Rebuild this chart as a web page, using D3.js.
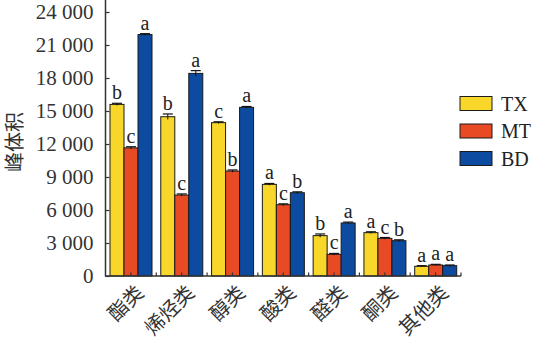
<!DOCTYPE html>
<html>
<head>
<meta charset="utf-8">
<script src="https://cdn.jsdelivr.net/npm/d3@7"></script>
<style>
  html, body { margin: 0; padding: 0; background: #fff; }
  svg { display: block; }
</style>
</head>
<body>
<svg id="chart" width="536" height="349"></svg>
<script>
const categories = ["酯类", "烯烃类", "醇类", "酸类", "醛类", "酮类", "其他类"];
const seriesNames = ["TX", "MT", "BD"];
const valuesTX = [15600, 14480, 13940, 8330, 3670, 3940, 880];
const valuesMT = [11650, 7360, 9540, 6480, 1970, 3420, 1000];
const valuesBD = [21950, 18420, 15330, 7570, 4820, 3210, 940];
const errorsTX = [100, 250, 80, 80, 150, 80, 60];
const errorsMT = [100, 100, 100, 80, 80, 80, 60];
const errorsBD = [80, 250, 80, 80, 80, 80, 60];
const lettersTX = ["b", "b", "c", "a", "b", "a", "a"];
const lettersMT = ["c", "c", "b", "c", "c", "c", "a"];
const lettersBD = ["a", "a", "a", "b", "a", "b", "a"];
const yTickValues = [0, 3000, 6000, 9000, 12000, 15000, 18000, 21000, 24000];
const yTickLabels = ["0", "3 000", "6 000", "9 000", "12 000", "15 000", "18 000", "21 000", "24 000"];
const yLabel = "峰体积";
const colors = ["#f9d72a", "#e84a24", "#0c4ba0"];

const seriesValues = [valuesTX, valuesMT, valuesBD];
const seriesErrors = [errorsTX, errorsMT, errorsBD];
const seriesLetters = [lettersTX, lettersMT, lettersBD];

const svg = d3.select("#chart");
const serif = "'Liberation Serif', 'Times New Roman', serif";
const cjk = "'Noto Sans CJK SC', sans-serif";
const axisColor = "#333";

const x0 = d3.scaleBand().domain(categories).range([105.5, 461]).padding(0);
const x1 = d3.scaleBand().domain(seriesNames).range([4.5, 46.5]).padding(0);
const y = d3.scaleLinear().domain([0, 24000]).range([276, 12]);
const color = d3.scaleOrdinal().domain(seriesNames).range(colors);

const rows = [];
categories.forEach((c, i) => {
  seriesNames.forEach((s, j) => {
    rows.push({cat: c, series: s, value: seriesValues[j][i], err: seriesErrors[j][i], letter: seriesLetters[j][i]});
  });
});

const g = svg.append("g");

g.selectAll("rect.bar").data(rows).join("rect")
  .attr("class", "bar")
  .attr("x", d => x0(d.cat) + x1(d.series))
  .attr("y", d => y(d.value))
  .attr("width", x1.bandwidth())
  .attr("height", d => y(0) - y(d.value))
  .attr("fill", d => color(d.series))
  .attr("stroke", "#1a1a1a")
  .attr("stroke-width", 1);

const eb = g.selectAll("g.err").data(rows).join("g").attr("class", "err");
eb.append("line")
  .attr("x1", d => x0(d.cat) + x1(d.series) + x1.bandwidth() / 2)
  .attr("x2", d => x0(d.cat) + x1(d.series) + x1.bandwidth() / 2)
  .attr("y1", d => y(d.value - d.err))
  .attr("y2", d => y(d.value + d.err))
  .attr("stroke", "#111").attr("stroke-width", 1);
eb.append("line")
  .attr("x1", d => x0(d.cat) + x1(d.series) + 2)
  .attr("x2", d => x0(d.cat) + x1(d.series) + x1.bandwidth() - 2)
  .attr("y1", d => y(d.value + d.err))
  .attr("y2", d => y(d.value + d.err))
  .attr("stroke", "#111").attr("stroke-width", 1.2);

g.selectAll("text.letter").data(rows).join("text")
  .attr("class", "letter")
  .attr("x", d => x0(d.cat) + x1(d.series) + x1.bandwidth() / 2)
  .attr("y", d => y(d.value + d.err) - 4)
  .attr("text-anchor", "middle")
  .attr("font-family", serif)
  .attr("font-size", 20)
  .attr("fill", "#222")
  .text(d => d.letter);

const yAxis = d3.axisLeft(y)
  .tickValues(yTickValues)
  .tickFormat((d, i) => yTickLabels[i])
  .tickSize(-4)
  .tickSizeOuter(0)
  .tickPadding(12);
const ya = svg.append("g").attr("transform", "translate(105.5,0)").call(yAxis);
ya.select(".domain").remove();
ya.append("line").attr("x1", 0).attr("x2", 0).attr("y1", 0).attr("y2", y(0) + 0.5)
  .attr("stroke", axisColor).attr("stroke-width", 1.5);
ya.selectAll(".tick line").attr("stroke", axisColor).attr("stroke-width", 1.2);
ya.selectAll(".tick text")
  .attr("font-family", serif)
  .attr("font-size", 21)
  .attr("fill", "#333");

const xa = svg.append("g").attr("transform", `translate(0,${y(0)})`);
xa.append("line").attr("x1", 105.5).attr("x2", 461).attr("y1", 0).attr("y2", 0)
  .attr("stroke", axisColor).attr("stroke-width", 1.5);
const xTickPositions = [];
categories.forEach(c => {
  xTickPositions.push(x0(c) + x0.bandwidth() / 2);
  xTickPositions.push(x0(c) + x0.bandwidth());
});
xa.selectAll("line.xt").data(xTickPositions).join("line")
  .attr("class", "xt")
  .attr("x1", d => d).attr("x2", d => d)
  .attr("y1", 0).attr("y2", -3.5)
  .attr("stroke", axisColor).attr("stroke-width", 1.2);
xa.selectAll("text.xl").data(categories).join("text")
  .attr("class", "xl")
  .attr("transform", d => `translate(${x0(d) + x0.bandwidth() / 2 + 14},${18}) rotate(-45)`)
  .attr("text-anchor", "end")
  .attr("font-family", cjk)
  .attr("font-size", 20)
  .attr("fill", "#333")
  .text(d => d);

svg.append("text")
  .attr("transform", "translate(13,142) rotate(-90)")
  .attr("text-anchor", "middle")
  .attr("dominant-baseline", "central")
  .attr("font-family", cjk)
  .attr("font-size", 20)
  .attr("fill", "#333")
  .text(yLabel);

const lg = svg.append("g").attr("transform", "translate(460,96)");
const li = lg.selectAll("g").data(seriesNames).join("g")
  .attr("transform", (d, i) => `translate(0,${i * 27.5})`);
li.append("rect").attr("x", 0).attr("y", 0.5).attr("width", 32).attr("height", 14)
  .attr("fill", d => color(d)).attr("stroke", "#1a1a1a").attr("stroke-width", 1);
li.append("text").attr("x", 41).attr("y", 14.5)
  .attr("font-family", serif).attr("font-size", 20).attr("fill", "#222")
  .text(d => d);
</script>
</body>
</html>
